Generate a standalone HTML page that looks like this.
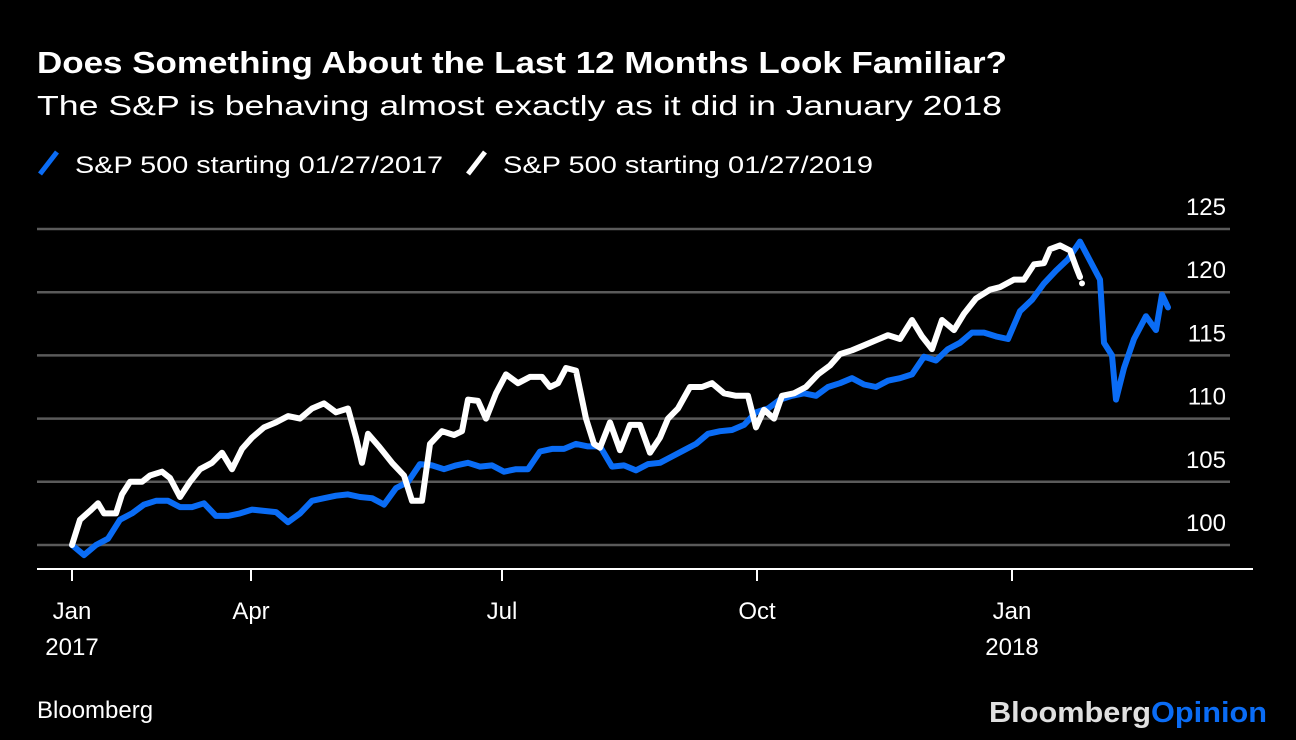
<!DOCTYPE html>
<html><head><meta charset="utf-8"><style>
html,body{margin:0;padding:0;background:#000;}
svg{display:block;font-family:"Liberation Sans",sans-serif;}
</style></head><body>
<svg id="chart" width="1296" height="740" viewBox="0 0 1296 740">
<rect width="1296" height="740" fill="#000"/>
<text x="37" y="73" fill="#fff" font-size="31" font-weight="bold" textLength="970" lengthAdjust="spacingAndGlyphs">Does Something About the Last 12 Months Look Familiar?</text>
<text x="37" y="115" fill="#fff" font-size="28" textLength="965" lengthAdjust="spacingAndGlyphs">The S&amp;P is behaving almost exactly as it did in January 2018</text>
<g>
<g>
<line x1="40" y1="174" x2="57" y2="152" stroke="#0a6cf5" stroke-width="5"/>
<text x="75" y="173" fill="#fff" font-size="24" textLength="368" lengthAdjust="spacingAndGlyphs">S&amp;P 500 starting 01/27/2017</text>
</g>
<g>
<line x1="468" y1="174" x2="485" y2="152" stroke="#fff" stroke-width="5"/>
<text x="503" y="173" fill="#fff" font-size="24" textLength="370" lengthAdjust="spacingAndGlyphs">S&amp;P 500 starting 01/27/2019</text>
</g>
</g>
<g id="grid"></g>
<g id="yticks"></g>
<g id="xaxis"></g>
<g id="series"></g>
<text x="37" y="718" fill="#fff" font-size="24">Bloomberg</text>
<text x="1267" y="722" text-anchor="end" font-size="29" font-weight="bold" textLength="278" lengthAdjust="spacingAndGlyphs"><tspan fill="#e0e0e0">Bloomberg</tspan><tspan fill="#0a6cf5">Opinion</tspan></text>
</svg>
<script>
const yTicks = [100, 105, 110, 115, 120, 125];
const xTickDays = [0, 44.75, 107.5, 171.25, 235];
const xTickMonth = ["Jan", "Apr", "Jul", "Oct", "Jan"];
const xTickYear = ["2017", "", "", "", "2018"];
const blueDays = [0,3,6,9,12,15,18,21,24,27,30,33,36,39,42,45,48,51,54,57,60,63,66,69,72,75,78,81,84,87,90,93,96,99,102,105,108,111,114,117,120,123,126,129,132,135,138,141,144,147,150,153,156,159,162,165,168,171,174,177,180,183,186,189,192,195,198,201,204,207,210,213,216,219,222,225,228,231,234,237,240,243,246,249,252,254.5,257,258,260,261,263,265.5,268.5,271,272.5,274];
const blueValues = [100,99.2,100,100.5,102,102.5,103.2,103.5,103.5,103,103,103.3,102.3,102.3,102.5,102.8,102.7,102.6,101.8,102.5,103.5,103.7,103.9,104,103.8,103.7,103.2,104.5,105,106.4,106.3,106,106.3,106.5,106.2,106.3,105.8,106,106,107.4,107.6,107.6,108,107.8,107.8,106.2,106.3,105.9,106.4,106.5,107,107.5,108,108.8,109,109.1,109.5,110.5,110.8,111.5,111.8,112,111.8,112.5,112.8,113.2,112.7,112.5,113,113.2,113.5,114.9,114.6,115.5,116,116.8,116.8,116.5,116.3,118.5,119.4,120.7,121.7,122.6,124,122.5,121,116,115,111.5,114,116.3,118.1,117,119.8,118.8];
const whiteDays = [0,2,4.5,6.5,8,11,12.5,14.5,17.5,19.5,22.5,24.5,27,29.5,32,35,37.5,40,42.5,45,48,51,54,57,60,63,66,69,71,72.5,74,77,80,83,85,87.5,89.5,92.5,95.5,97.5,99,101.5,103.5,106,108.5,111.5,114.5,117.5,119.5,121.5,123.5,126,128.5,130.5,132,134.5,137,139.5,142,144.5,147,149,151.5,154.5,157.5,160,163,166,169,171,173,175.5,177.5,180.5,183.5,186.5,189.5,192,195,198,201,204,207,210,212.5,215,217.5,220.5,223,226,229.5,232,235.5,238,240.5,243,244.5,247,249.5,251,252];
const whiteValues = [100,102,102.7,103.3,102.5,102.5,104,105,105,105.5,105.8,105.3,103.8,105,106,106.5,107.3,106,107.6,108.5,109.3,109.7,110.2,110,110.8,111.2,110.5,110.8,108.5,106.5,108.8,107.7,106.5,105.5,103.5,103.5,108,109,108.7,109,111.5,111.4,110,112,113.5,112.8,113.3,113.3,112.5,112.8,114,113.8,110,108,107.7,109.7,107.5,109.5,109.5,107.3,108.5,110,110.8,112.5,112.5,112.8,112,111.8,111.8,109.3,110.7,110,111.8,112,112.5,113.5,114.2,115.1,115.4,115.8,116.2,116.6,116.3,117.8,116.5,115.5,117.8,117,118.3,119.5,120.2,120.4,121,121,122.2,122.3,123.4,123.7,123.3,122,121.2];
const whiteDotDay = [252.5];
const whiteDotValue = [120.7];

const NS = "http://www.w3.org/2000/svg";
function xS(d){ return 72 + d * 4; }
function yS(v){ return 545 - (v - 100) * 12.64; }
function mk(tag, attrs, parent){ const e = document.createElementNS(NS, tag); for (const k in attrs) e.setAttribute(k, attrs[k]); parent.appendChild(e); return e; }

const grid = document.getElementById('grid');
const yt = document.getElementById('yticks');
yTicks.forEach(v => {
  const l = mk('line', {x1:37, x2:1230, y1:yS(v), y2:yS(v), stroke:'#5a5a5a', 'stroke-width':2.5}, grid);
  
  
  const t = mk('text', {x:1226, y:yS(v) - 14, fill:'#fff', 'font-size':24, 'text-anchor':'end'}, yt);
  t.textContent = v;
  
  
});

const xa = document.getElementById('xaxis');
const axl = mk('line', {x1:37, x2:1253, y1:569, y2:569, stroke:'#fff', 'stroke-width':2}, xa);


xTickDays.forEach((d, i) => {
  const x = xS(d);
  const tk = mk('line', {x1:x, x2:x, y1:569, y2:581, stroke:'#fff', 'stroke-width':2}, xa);
  
  
  const t = mk('text', {x:x, y:619, fill:'#fff', 'font-size':24, 'text-anchor':'middle'}, xa);
  t.textContent = xTickMonth[i];
  
  
  if (xTickYear[i]) {
    const ty = mk('text', {x:x, y:655, fill:'#fff', 'font-size':24, 'text-anchor':'middle'}, xa);
    ty.textContent = xTickYear[i];
    
    
  }
});

const ser = document.getElementById('series');
function pathFor(days, vals){ const n = Math.min(days.length, vals.length); let s = ''; for (let i = 0; i < n; i++) s += (i ? 'L' : 'M') + xS(days[i]).toFixed(1) + ',' + yS(vals[i]).toFixed(1); return s; }
const pb = mk('path', {d:pathFor(blueDays, blueValues), fill:'none', stroke:'#0a6cf5', 'stroke-width':6, 'stroke-linejoin':'round', 'stroke-linecap':'round'}, ser);


const pw = mk('path', {d:pathFor(whiteDays, whiteValues), fill:'none', stroke:'#fff', 'stroke-width':6, 'stroke-linejoin':'round', 'stroke-linecap':'round'}, ser);


whiteDotDay.forEach((d, i) => {
  const c = mk('circle', {cx:xS(d), cy:yS(whiteDotValue[i]), r:3, fill:'#fff'}, ser);
  
  
});
</script>
</body></html>
